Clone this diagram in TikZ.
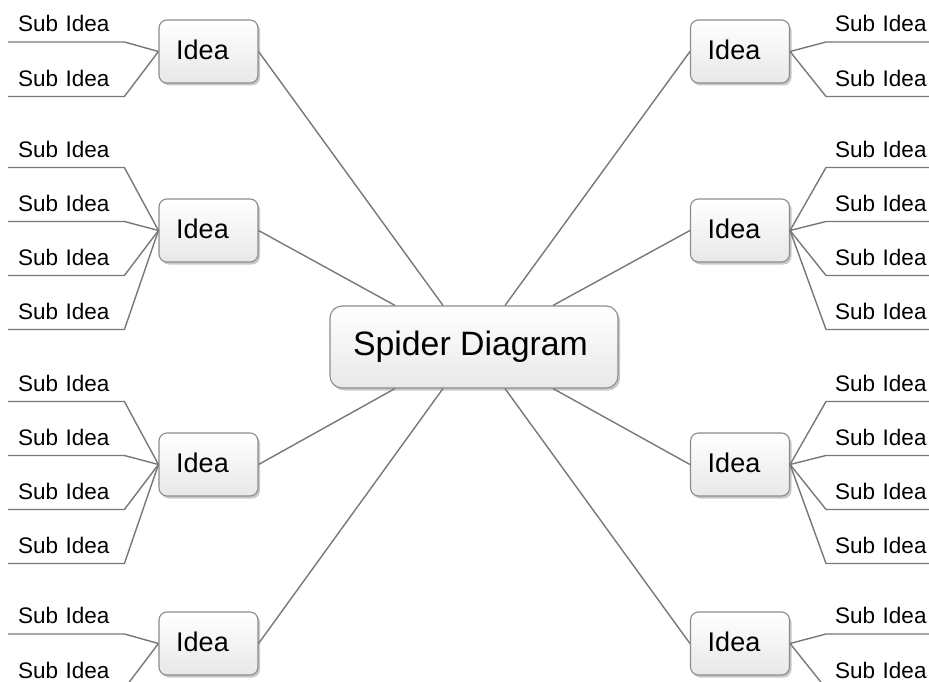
\documentclass[tikz,border=0pt]{standalone}
\usepackage{fontspec}
\setmainfont{Liberation Sans}
\usetikzlibrary{shadows}
\definecolor{boxline}{RGB}{140,140,140}
\definecolor{boxfill}{RGB}{232,232,232}
\definecolor{linegray}{RGB}{120,120,120}
\begin{document}
\begin{tikzpicture}[x=1pt,y=-1pt,
  box/.style={draw=boxline, line width=1.1pt, rounded corners=8pt,
    top color=white, bottom color=boxfill,
    drop shadow={shadow xshift=2pt, shadow yshift=-2.5pt, opacity=0.35, fill=black!60},
    text=black, inner sep=0pt},
  idea/.style={box, minimum width=99pt, minimum height=63pt, text depth=4pt,
    font=\fontsize{27}{30}\selectfont},
  hub/.style={box, rounded corners=12pt, minimum width=288pt, minimum height=82pt,
    font=\fontsize{33.8}{36}\selectfont},
  sub/.style={font=\fontsize{22.5}{24}\selectfont, text depth=0pt, inner ysep=10pt,
    anchor=south west, align=left},
  subL/.style={sub, inner xsep=10pt, text width=96pt},
  subR/.style={sub, inner xsep=9pt, text width=100pt},
  link/.style={draw=linegray, line width=1.4pt}
]
\useasboundingbox (0,0) rectangle (929,682);
\fill[white] (0,0) rectangle (929,682);

% central topic
\node[hub] (hub) at (474,347) {Spider Diagram\kern7pt};

% ideas with their sub ideas, left and right
\foreach \r/\yc/\offs in {1/51.5/{-9.5,45}, 2/230.5/{-63,-9,45,99},
                          3/464.5/{-63,-9,45,99}, 4/643.5/{-9.5,45}}{
  \node[idea] (li\r) at (208.5,\yc) {Idea\kern12pt};
  \node[idea] (ri\r) at (740,\yc) {Idea\kern12pt};
  \foreach \o [count=\k] in \offs {
    \node[subL] (ls\r-\k) at (8,\yc+\o) {Sub Idea};
    \node[subR] (rs\r-\k) at (826,\yc+\o) {Sub Idea};
    \draw[link] (li\r.west) -- (ls\r-\k.south east) -- (ls\r-\k.south west);
    \draw[link] (ri\r.east) -- (rs\r-\k.south west) -- (rs\r-\k.south east);
  }
}

% spokes from the central topic to each idea
\draw[link] (li1.east) -- ([xshift=-31pt]hub.north);
\draw[link] (li2.east) -- ([xshift=-79pt]hub.north);
\draw[link] (li3.east) -- ([xshift=-79pt]hub.south);
\draw[link] (li4.east) -- ([xshift=-31pt]hub.south);
\draw[link] (ri1.west) -- ([xshift=31pt]hub.north);
\draw[link] (ri2.west) -- ([xshift=79pt]hub.north);
\draw[link] (ri3.west) -- ([xshift=79pt]hub.south);
\draw[link] (ri4.west) -- ([xshift=31pt]hub.south);
\end{tikzpicture}
\end{document}
